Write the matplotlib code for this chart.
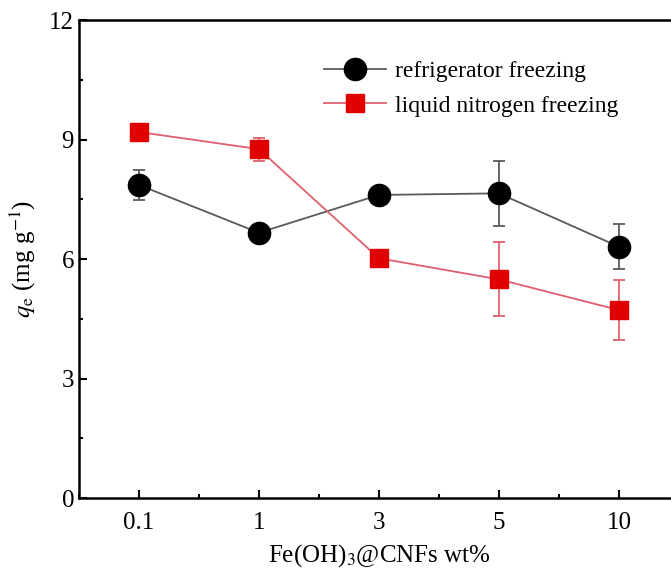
import matplotlib.pyplot as plt
from matplotlib.ticker import MultipleLocator

plt.rcParams['font.family'] = ['Liberation Serif', 'DejaVu Serif']
plt.rcParams['mathtext.fontset'] = 'stix'

# Fe(OH)3@CNFs content and adsorption capacity q_e
loadings = ['0.1', '1', '3', '5', '10']
fridge_qe = [7.86, 6.66, 7.61, 7.65, 6.31]
fridge_err = [0.38, 0.0, 0.0, 0.81, 0.56]
ln2_qe = [9.19, 8.76, 6.02, 5.49, 4.72]
ln2_err = [0.0, 0.29, 0.12, 0.93, 0.76]

x = list(range(1, len(loadings) + 1))

fig = plt.figure(figsize=(6.71, 5.71), dpi=100)
ax = fig.add_axes([0.1177, 0.1278, 0.894, 0.837])

eb1 = ax.errorbar(x, fridge_qe, yerr=fridge_err, color='#5a5a5a', lw=1.3,
                  marker='o', ms=16, mfc='black', mec='black',
                  ecolor='#5a5a5a', elinewidth=1.3, capsize=4, capthick=1.3,
                  zorder=3)
eb2 = ax.errorbar(x, ln2_qe, yerr=ln2_err, color='#e0606e', lw=1.3,
                  marker='s', ms=13, mfc='#e00000', mec='#e00000',
                  ecolor='#e0606e', elinewidth=1.3, capsize=4, capthick=1.3,
                  zorder=3)

ax.set_xlim(0.5, 5.5)
ax.set_ylim(0, 12)
ax.set_xticks(x)
ax.set_xticklabels(loadings)
ax.xaxis.set_minor_locator(MultipleLocator(0.5))
ax.yaxis.set_major_locator(MultipleLocator(3))
ax.yaxis.set_minor_locator(MultipleLocator(1.5))
ax.tick_params(which='both', direction='in', width=1.5, labelsize=18)
ax.tick_params(which='major', length=6)
ax.tick_params(which='minor', length=3)
ax.tick_params(axis='x', pad=10)
for s in ax.spines.values():
    s.set_linewidth(1.8)

ax.set_xlabel(r'Fe(OH)$_3$@CNFs wt%', fontsize=18, labelpad=6)
ax.set_ylabel(r'$q_\mathrm{e}$ (mg g$^{-1}$)', fontsize=18, labelpad=8)

# legend shows only the line + marker, no error bars
ax.legend([eb1[0], eb2[0]], ['refrigerator freezing', 'liquid nitrogen freezing'],
          loc='upper left', bbox_to_anchor=(0.393, 0.935), frameon=False,
          fontsize=17, handlelength=2.6, handletextpad=0.4,
          labelspacing=0.55, borderaxespad=0)

fig.savefig('out.png', dpi=100)
